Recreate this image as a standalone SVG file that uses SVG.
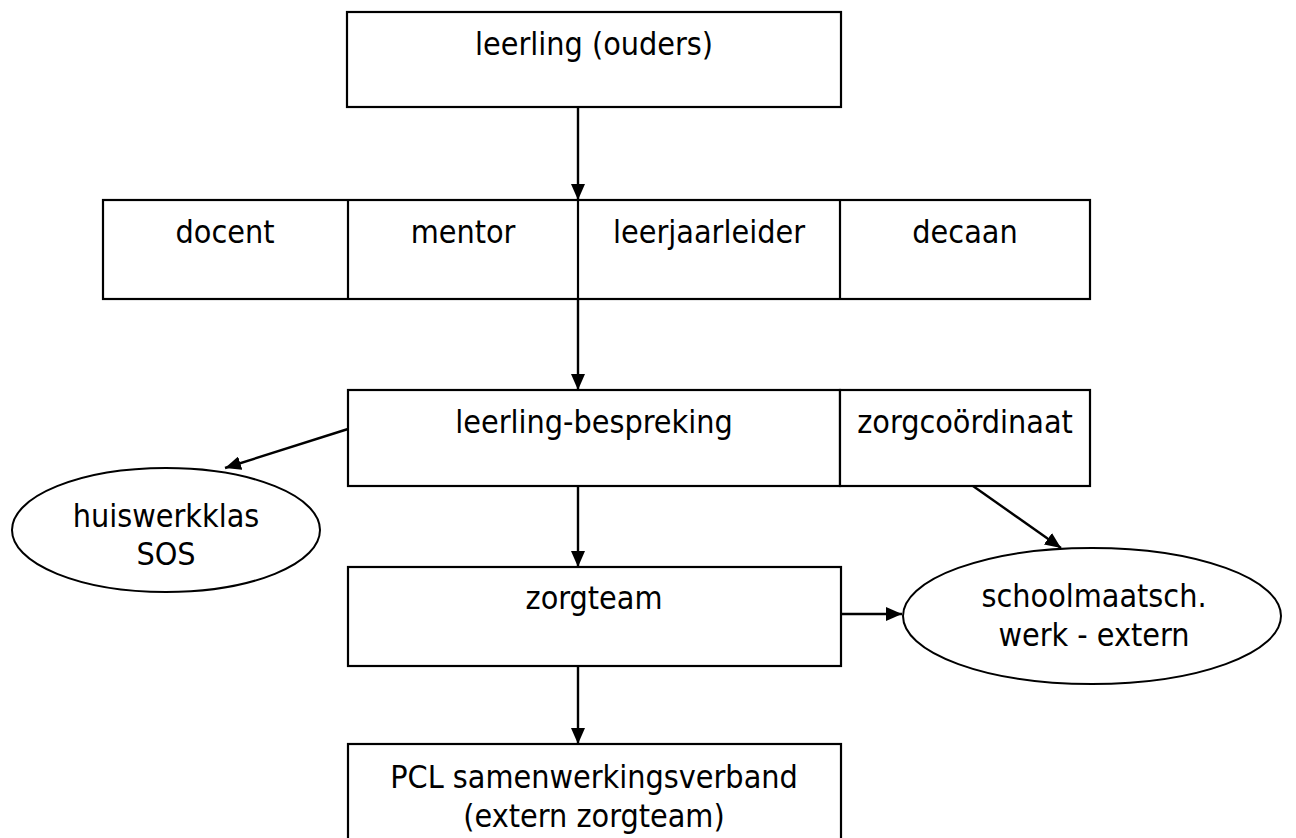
<svg xmlns="http://www.w3.org/2000/svg" width="1296" height="838" viewBox="0 0 1296 838">
<defs>
<style>
.box{fill:#fff;stroke:#000;stroke-width:2.2}
.div{stroke:#000;stroke-width:2.2;fill:none}
.ell{fill:#fff;stroke:#000;stroke-width:2}
.t{font-family:"DejaVu Sans Condensed","DejaVu Sans",sans-serif;font-size:32px;fill:#000;text-anchor:middle}
.c{stroke:#000;stroke-width:2.4;fill:none;marker-end:url(#ah)}
</style>
<marker id="ah" viewBox="0 0 16 14" refX="16" refY="7" markerWidth="16" markerHeight="14" markerUnits="userSpaceOnUse" orient="auto">
<path d="M0,0 L16,7 L0,14 z" fill="#000"/>
</marker>
</defs>
<rect width="1296" height="838" fill="#fff"/>
<g id="n-leerling">
<rect class="box" x="347" y="12" width="494" height="95"/>
<text class="t" x="594" y="55">leerling (ouders)</text>
</g>
<g id="n-row">
<rect class="box" x="103" y="200" width="987" height="99"/>
<line class="div" x1="348" y1="200" x2="348" y2="299"/>
<line class="div" x1="578" y1="200" x2="578" y2="299"/>
<line class="div" x1="840" y1="200" x2="840" y2="299"/>
</g>
<g id="n-docent"><text class="t" x="225" y="243">docent</text></g>
<g id="n-mentor"><text class="t" x="463" y="243">mentor</text></g>
<g id="n-leerjaarleider"><text class="t" x="709" y="243">leerjaarleider</text></g>
<g id="n-decaan"><text class="t" x="965" y="243">decaan</text></g>
<g id="n-bespreking">
<rect class="box" x="348" y="390" width="492" height="96"/>
<text class="t" x="594" y="433">leerling-bespreking</text>
</g>
<g id="n-zorgcoordinaat">
<rect class="box" x="840" y="390" width="250" height="96"/>
<text class="t" x="965" y="433">zorgcoördinaat</text>
</g>
<g id="n-huiswerkklas">
<ellipse class="ell" cx="166" cy="530" rx="154" ry="62"/>
<text class="t" x="166" y="527">huiswerkklas</text>
<text class="t" x="166" y="565">SOS</text>
</g>
<g id="n-zorgteam">
<rect class="box" x="348" y="567" width="493" height="99"/>
<text class="t" x="594" y="609">zorgteam</text>
</g>
<g id="n-schoolmaatsch">
<ellipse class="ell" cx="1092" cy="616" rx="189" ry="68"/>
<text class="t" x="1094" y="607">schoolmaatsch.</text>
<text class="t" x="1094" y="646">werk - extern</text>
</g>
<g id="n-pcl">
<rect class="box" x="348" y="744" width="493" height="110"/>
<text class="t" x="594" y="788">PCL samenwerkingsverband</text>
<text class="t" x="594" y="827">(extern zorgteam)</text>
</g>
<g id="connectors">
<line class="c" x1="578" y1="107" x2="578" y2="200"/>
<line class="c" x1="578" y1="299" x2="578" y2="390"/>
<line class="c" x1="578" y1="486" x2="578" y2="567"/>
<line class="c" x1="578" y1="666" x2="578" y2="744"/>
<line class="c" x1="348" y1="429" x2="225" y2="468"/>
<line class="c" x1="973" y1="486" x2="1061" y2="548"/>
<line class="c" x1="841" y1="614" x2="902" y2="614"/>
</g>
</svg>
